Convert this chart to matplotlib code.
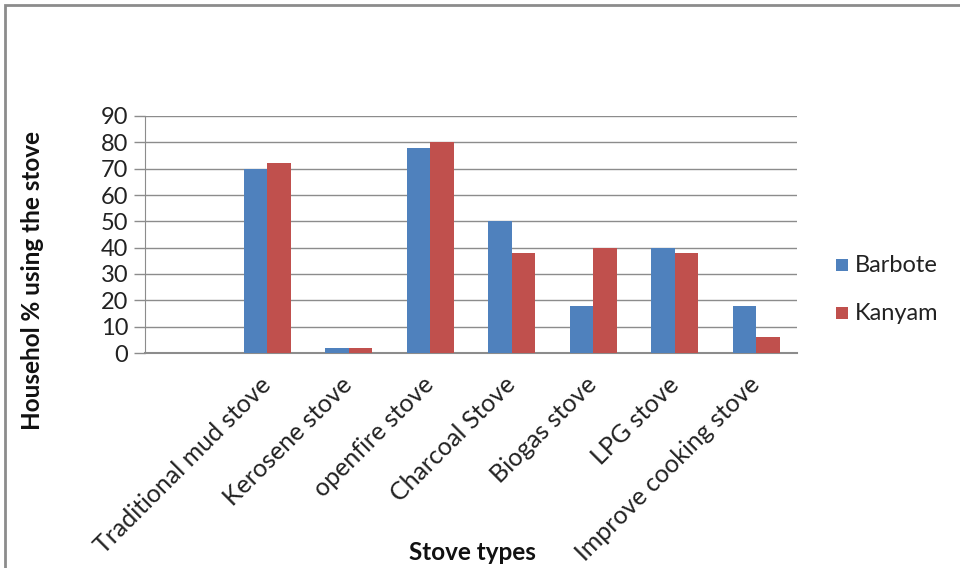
import matplotlib
matplotlib.use("Agg")
import matplotlib.pyplot as plt
from matplotlib.patches import Rectangle
import numpy as np

# Survey data: share of households using each stove type
categories = ["", "Traditional mud stove", "Kerosene stove", "openfire stove",
              "Charcoal Stove", "Biogas stove", "LPG stove", "Improve cooking stove"]
barbote = [0, 70, 2, 78, 50, 18, 40, 18]
kanyam = [0, 72, 2, 80, 38, 40, 38, 6]
series_names = ["Barbote", "Kanyam"]
series_colors = ["#4F81BD", "#C0504D"]
y_ticks = [0, 10, 20, 30, 40, 50, 60, 70, 80, 90]

plt.rcParams["font.family"] = ["Lato", "DejaVu Sans"]

W, H = 960, 568
fig = plt.figure(figsize=(W / 100, H / 100), dpi=100)

# outer chart frame (left and top edges visible)
fig.patches.append(Rectangle((5 / W, -0.05), 1.2, 1 - 5 / H + 0.05,
                             transform=fig.transFigure, fill=False,
                             edgecolor="#8C8C8C", linewidth=2))

ax = fig.add_axes([145 / W, 1 - 353 / H, (797 - 145) / W, (353 - 116) / H])

x = np.arange(len(categories))
bw = 1 / 3.5
ax.bar(x - bw / 2, barbote, width=bw, color=series_colors[0], label=series_names[0], zorder=3)
ax.bar(x + bw / 2, kanyam, width=bw, color=series_colors[1], label=series_names[1], zorder=3)

ax.set_xlim(-0.5, len(categories) - 0.5)
ax.set_ylim(0, 90)
ax.set_yticks(y_ticks)
ax.set_yticklabels([str(v) for v in y_ticks], fontsize=17, color="#222222")
ax.yaxis.grid(True, color="#8C8C8C", linewidth=1, zorder=0)
ax.tick_params(axis="y", length=8, width=1, color="#8C8C8C", pad=4)

ax.set_xticks(x)
ax.set_xticklabels(categories, rotation=45, ha="right", va="center",
                   rotation_mode="anchor", fontsize=18, color="#222222")
ax.tick_params(axis="x", length=0, pad=20)

for s in ["top", "right"]:
    ax.spines[s].set_visible(False)
ax.spines["left"].set_color("#8C8C8C")
ax.spines["bottom"].set_color("#8C8C8C")
ax.spines["bottom"].set_linewidth(1.5)

fig.text(33 / W, 1 - 280 / H, "Househol % using the stove", rotation=90,
         ha="center", va="center", fontsize=17.5, fontweight="bold", color="#111111")
fig.text(472 / W, 1 - 553 / H, "Stove types", ha="center", va="center",
         fontsize=17.5, fontweight="bold", color="#111111")

# legend on the right
for i, (name, col) in enumerate(zip(series_names, series_colors)):
    yc = 265 + 48 * i
    fig.patches.append(Rectangle((836 / W, 1 - (yc + 6) / H), 12 / W, 12 / H,
                                 transform=fig.transFigure, facecolor=col,
                                 edgecolor="none"))
    fig.text(855 / W, 1 - yc / H, name, ha="left", va="center",
             fontsize=17, color="#222222")

fig.savefig("out.png", dpi=100, facecolor="white")
